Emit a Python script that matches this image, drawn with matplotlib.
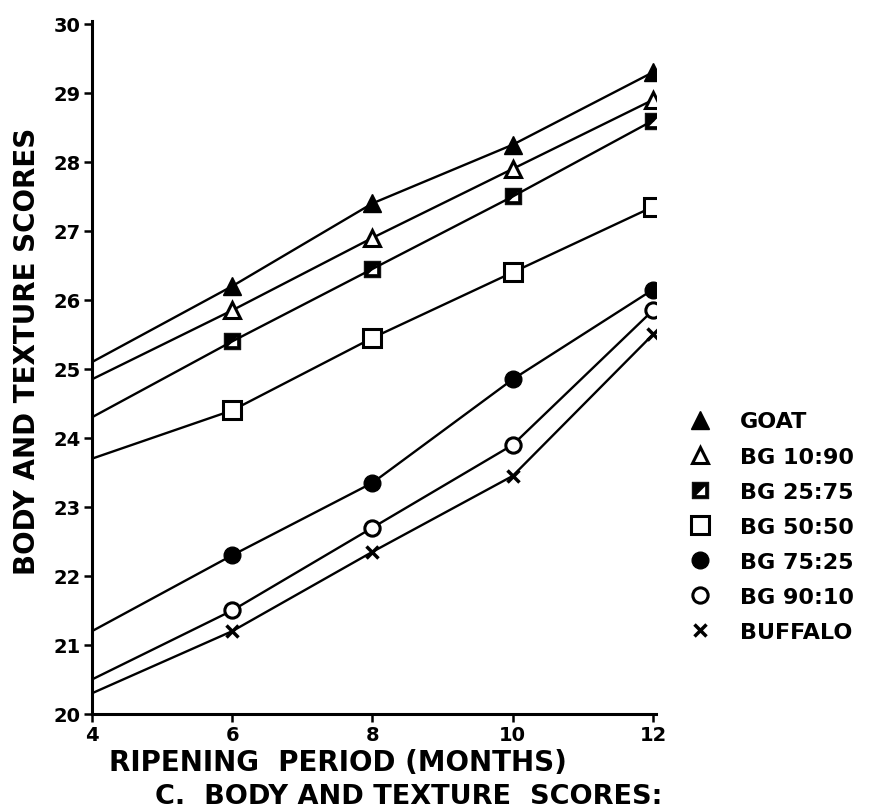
import matplotlib
matplotlib.use("Agg")
import matplotlib.pyplot as plt
from matplotlib.path import Path
from matplotlib.lines import Line2D

# Data
months = [4, 6, 8, 10, 12]
goat = [25.1, 26.2, 27.4, 28.25, 29.3]
bg_10_90 = [24.85, 25.85, 26.9, 27.9, 28.9]
bg_25_75 = [24.3, 25.4, 26.45, 27.5, 28.6]
bg_50_50 = [23.7, 24.4, 25.45, 26.4, 27.35]
bg_75_25 = [21.2, 22.3, 23.35, 24.85, 26.15]
bg_90_10 = [20.5, 21.5, 22.7, 23.9, 25.85]
buffalo = [20.3, 21.2, 22.35, 23.45, 25.5]

labels = ["GOAT", "BG 10:90", "BG 25:75", "BG 50:50", "BG 75:25", "BG 90:10", "BUFFALO"]
x_ticks = [4, 6, 8, 10, 12]
y_ticks = list(range(20, 31))

plt.rcParams["font.family"] = "DejaVu Sans"
plt.rcParams["font.weight"] = "bold"

# square with upper-left half filled (BG 25:75 symbol)
half_square = Path(
    [(-1, -1), (1, -1), (1, 1), (-1, 1), (-1, -1),
     (-0.6, -0.6), (-0.6, 0.6), (0.6, 0.6), (0.6, -0.6), (-0.6, -0.6),
     (-0.6, -0.6), (0.6, 0.6), (-0.6, 0.6), (-0.6, -0.6)],
    [Path.MOVETO, Path.LINETO, Path.LINETO, Path.LINETO, Path.CLOSEPOLY,
     Path.MOVETO, Path.LINETO, Path.LINETO, Path.LINETO, Path.CLOSEPOLY,
     Path.MOVETO, Path.LINETO, Path.LINETO, Path.CLOSEPOLY],
)

styles = [
    dict(marker="^", ms=13, mfc="black", mec="black", mew=1),
    dict(marker="^", ms=12, mfc="white", mec="black", mew=2.2),
    dict(marker=half_square, ms=12, mfc="black", mec="black", mew=0.5),
    dict(marker="s", ms=13, mfc="white", mec="black", mew=2.2),
    dict(marker="o", ms=12, mfc="black", mec="black", mew=1),
    dict(marker="o", ms=11, mfc="white", mec="black", mew=2.2),
    dict(marker="x", ms=8, mfc="black", mec="black", mew=2.5),
]
series = [goat, bg_10_90, bg_25_75, bg_50_50, bg_75_25, bg_90_10, buffalo]

fig = plt.figure(figsize=(8.87, 8.12), dpi=100)
ax = fig.add_axes([0.1037, 0.1195, 0.6364, 0.854])

for vals, st in zip(series, styles):
    # no marker at the 4-month start point
    ax.plot(months, vals, color="black", lw=1.7, markevery=[1, 2, 3, 4], **st)

ax.set_xlim(4, 12.05)
ax.set_ylim(20, 30.05)
ax.set_xticks(x_ticks)
ax.set_yticks(y_ticks)
ax.tick_params(axis="both", direction="out", length=6, width=1.8, labelsize=14, pad=2)
for lab in ax.get_xticklabels() + ax.get_yticklabels():
    lab.set_fontweight("bold")

for side in ["top", "right"]:
    ax.spines[side].set_visible(False)
for side in ["left", "bottom"]:
    ax.spines[side].set_linewidth(2.2)

# axis titles
fig.text(0.030, 0.567, "BODY AND TEXTURE SCORES", rotation=90, ha="center", va="center",
         fontsize=20, fontweight="bold")
fig.text(0.3805, 0.0603, "RIPENING  PERIOD (MONTHS)", ha="center", va="center",
         fontsize=20, fontweight="bold")
fig.text(0.461, 0.0185, "C.  BODY AND TEXTURE  SCORES:", ha="center", va="center",
         fontsize=19.5, fontweight="bold")

# legend with markers only
handles = [Line2D([], [], ls="none", **st) for st in styles]
leg = ax.legend(handles, labels, loc="upper left", bbox_to_anchor=(0.777, 0.492),
                bbox_transform=fig.transFigure, frameon=False, fontsize=16,
                handlelength=1.0, handletextpad=1.3, labelspacing=0.68,
                borderpad=0, borderaxespad=0)
for t in leg.get_texts():
    t.set_fontweight("bold")

fig.savefig("out.png", dpi=100, facecolor="white")
